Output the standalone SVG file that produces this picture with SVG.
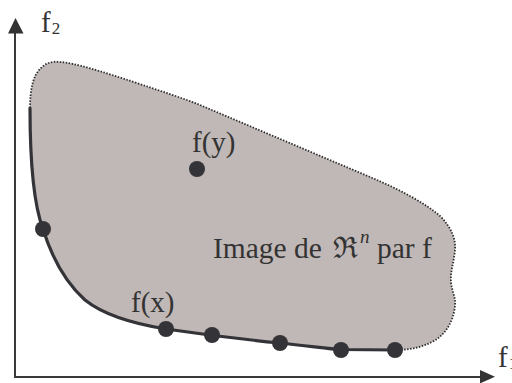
<svg xmlns="http://www.w3.org/2000/svg" width="512" height="383" viewBox="0 0 512 383">
<style>
.t{font-family:"Liberation Serif","DejaVu Serif",serif;fill:#333;}
.axis{stroke:#3a3a3a;stroke-width:2;fill:none;}
.head{fill:#333;}
.dot{fill:#333338;}
.front{stroke:#333338;stroke-width:3.2;fill:none;stroke-linecap:round;}
.outline{stroke:#2e2e2e;stroke-width:1.8;fill:none;stroke-dasharray:1.5 1.5;}
</style>
<rect width="512" height="383" fill="#fff"/>
<g id="region">
<path fill="#c0b8b6" d="M 30,108 C 30,90 33,75 41,68 C 46,63 52,61 60,62 C 75,63 100,71 137,83 C 160,91 180,97 200,105 L 377,180 C 400,190 425,203 440,216 C 452,228 456,240 455,250 C 454,262 450,272 451,282 C 452,292 456,298 455,305 C 454,320 446,335 432,342 C 420,348 408,350 395,350 L 341,349.5 C 330,349 310,346 280,343 C 250,340 200,334 166,329 C 135,324 105,316 85,300 C 65,282 52,258 43,229 C 32,200 30,150 30,108 Z"/>
<path class="outline" d="M 30,108 C 30,90 33,75 41,68 C 46,63 52,61 60,62 C 75,63 100,71 137,83 C 160,91 180,97 200,105 L 377,180 C 400,190 425,203 440,216 C 452,228 456,240 455,250 C 454,262 450,272 451,282 C 452,292 456,298 455,305 C 454,320 446,335 432,342 C 420,348 408,350 395,350"/>
<text class="t" font-size="29.5" x="213" y="258">Image de</text>
<text class="t" font-size="29.5" x="333" y="258">ℜ</text>
<text class="t" font-size="19" font-style="italic" x="360" y="243">n</text>
<text class="t" font-size="29.5" x="377" y="258">par f</text>
</g>
<g id="connectors">
<path class="front" d="M 30,108 C 30,150 32,200 43,229 C 52,258 65,282 85,300 C 105,316 135,324 166,329 C 200,334 250,340 280,343 C 310,346 330,349 341,349.5 L 395,350"/>
</g>
<g id="axes">
<line class="axis" x1="15" y1="378" x2="15" y2="32"/>
<polygon class="head" points="15.5,18 8,33.5 23.5,33.5"/>
<line class="axis" x1="14" y1="377" x2="481" y2="377"/>
<polygon class="head" points="495,376.7 480,370 480,383.4"/>
<text class="t" font-size="29" x="41" y="32">f<tspan font-size="17" dx="1" dy="2">2</tspan></text>
<text class="t" font-size="29" x="498" y="367">f<tspan font-size="17" dx="1" dy="2">1</tspan></text>
</g>
<g id="fy">
<circle class="dot" cx="197" cy="169" r="8"/>
<text class="t" font-size="29" x="192" y="152">f(y)</text>
</g>
<g id="fx">
<text class="t" font-size="29" x="131" y="312">f(x)</text>
</g>
<g id="p1"><circle class="dot" cx="43" cy="229" r="8"/></g>
<g id="p2"><circle class="dot" cx="166" cy="329" r="8"/></g>
<g id="p3"><circle class="dot" cx="212" cy="335" r="8"/></g>
<g id="p4"><circle class="dot" cx="280" cy="343" r="8"/></g>
<g id="p5"><circle class="dot" cx="341" cy="350" r="8"/></g>
<g id="p6"><circle class="dot" cx="395" cy="350" r="8"/></g>
</svg>
